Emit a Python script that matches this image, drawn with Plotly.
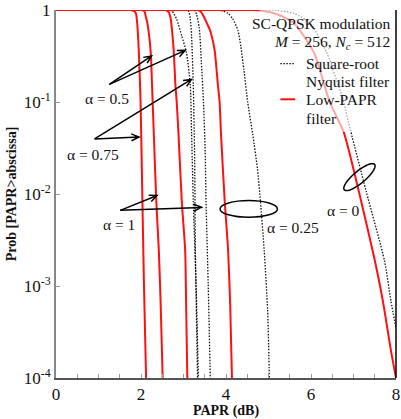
import math
import plotly.graph_objects as go

# ---------------- data ----------------
# Low-PAPR filter (red solid)
lp_a075_x = [0, 1.76, 1.84, 1.88, 1.91, 1.95, 1.99, 2.03, 2.07, 2.12]
lp_a075_p = [1, 1, 0.97, 0.92, 0.72, 0.34, 0.1, 0.01, 1e-3, 1e-4]

lp_a1_x = [0, 2.02, 2.08, 2.11, 2.15, 2.23, 2.26, 2.30, 2.36, 2.42, 2.46, 2.51]
lp_a1_p = [1, 1, 0.97, 0.86, 0.72, 0.34, 0.15, 0.047, 0.0083, 0.0024, 7e-4, 1e-4]

lp_a05_x = [0, 2.58, 2.65, 2.70, 2.73, 2.77, 2.81, 2.84, 2.88, 2.96, 3.04, 3.06, 3.09]
lp_a05_p = [1, 1, 0.95, 0.8, 0.6, 0.36, 0.152, 0.1, 0.047, 0.0083, 0.0024, 7e-4, 1e-4]

lp_a025_x = [0, 3.33, 3.40, 3.47, 3.55, 3.62, 3.70, 3.74, 3.81, 3.85, 3.88, 3.97, 4.05, 4.10, 4.14]
lp_a025_p = [1, 1, 0.97, 0.86, 0.72, 0.61, 0.44, 0.344, 0.152, 0.1, 0.047, 0.0083, 0.0024, 6e-4, 1e-4]

lp_a0_x = [0, 4.6, 4.81, 5.2, 5.60, 6.07, 6.44, 6.77, 7.14, 7.49, 7.69, 7.88, 8.0]
lp_a0_p = [1, 1, 0.99, 0.9, 0.72, 0.344, 0.1, 0.047, 0.01, 0.002, 6.9e-4, 2e-4, 1e-4]

# Square-root Nyquist filter (black dotted)
sr_a05_x = [0, 2.65, 2.73, 2.84, 2.96, 3.07, 3.16, 3.19, 3.23, 3.30, 3.35]
sr_a05_p = [1, 1, 0.975, 0.79, 0.52, 0.344, 0.152, 0.047, 0.0083, 9e-4, 1e-4]

sr_a075_x = [0, 3.05, 3.12, 3.16, 3.19, 3.23, 3.26, 3.28, 3.33]
sr_a075_p = [1, 1, 0.97, 0.8, 0.52, 0.152, 0.029, 0.0024, 1e-4]

sr_a1_x = [0, 3.22, 3.28, 3.37, 3.42, 3.47, 3.51, 3.53, 3.58, 3.63]
sr_a1_p = [1, 1, 0.97, 0.64, 0.27, 0.1, 0.029, 0.0083, 0.0011, 1e-4]

sr_a025_x = [0, 3.80, 3.93, 4.05, 4.16, 4.28, 4.35, 4.42, 4.51, 4.63, 4.74, 4.81, 4.90, 4.98, 5.02]
sr_a025_p = [1, 1, 0.975, 0.92, 0.8, 0.6, 0.4, 0.225, 0.1, 0.044, 0.0188, 0.0083, 0.0024, 5.4e-4, 1e-4]

sr_a0_x = [0, 5.0, 5.21, 5.6, 5.98, 6.37, 6.77, 6.88, 7.30, 7.73, 7.88, 8.0]
sr_a0_p = [1, 1, 0.99, 0.92, 0.72, 0.344, 0.1, 0.0605, 0.0106, 0.00187, 6.9e-4, 3.5e-4]

x_tick_vals = [0, 2, 4, 6, 8]
y_tick_vals = [1, 1e-1, 1e-2, 1e-3, 1e-4]
y_tick_text = ["1", "10<sup>-1</sup>", "10<sup>-2</sup>", "10<sup>-3</sup>", "10<sup>-4</sup>"]

# ---------------- figure ----------------
W, H = 401, 419
L, R, T, B = 56, 1, 7, 41
PW, PH = W - L - R, H - T - B

def px(X):
    return (X - L) / PW

def py(Y):
    return (H - B - Y) / PH

FONT = "Liberation Serif"
RED = "#ff1010"
DOT = "1.5px,1.5px"

fig = go.Figure()

red_series = [(lp_a075_x, lp_a075_p, "Low-PAPR α=0.75"),
              (lp_a1_x, lp_a1_p, "Low-PAPR α=1"),
              (lp_a05_x, lp_a05_p, "Low-PAPR α=0.5"),
              (lp_a025_x, lp_a025_p, "Low-PAPR α=0.25"),
              (lp_a0_x, lp_a0_p, "Low-PAPR α=0")]
dot_series = [(sr_a05_x, sr_a05_p, "SRN α=0.5"),
              (sr_a075_x, sr_a075_p, "SRN α=0.75"),
              (sr_a1_x, sr_a1_p, "SRN α=1"),
              (sr_a025_x, sr_a025_p, "SRN α=0.25"),
              (sr_a0_x, sr_a0_p, "SRN α=0")]

for xs, ps, nm in dot_series:
    fig.add_trace(go.Scatter(x=xs, y=ps, mode="lines", name=nm, showlegend=False,
                             line=dict(color="#111", width=1.3, dash=DOT,
                                       shape="spline", smoothing=0.6)))
for xs, ps, nm in red_series:
    fig.add_trace(go.Scatter(x=xs, y=ps, mode="lines", name=nm, showlegend=False,
                             line=dict(color=RED, width=2,
                                       shape="spline", smoothing=0.6)))

shapes = []
# semi-transparent legend backdrop
shapes.append(dict(type="rect", xref="paper", yref="paper", layer="above",
                   x0=px(262), x1=1.0, y0=py(130), y1=1.01,
                   fillcolor="rgba(255,255,255,0.62)", line=dict(width=0)))
# legend sample lines
shapes.append(dict(type="line", xref="paper", yref="paper", layer="above",
                   x0=px(283), x1=px(298), y0=py(61), y1=py(61),
                   line=dict(color="#111", width=1.3, dash=DOT)))
shapes.append(dict(type="line", xref="paper", yref="paper", layer="above",
                   x0=px(283), x1=px(298), y0=py(97), y1=py(97),
                   line=dict(color=RED, width=2)))
# right frame line
shapes.append(dict(type="line", xref="paper", yref="paper", layer="above",
                   x0=1, x1=1, y0=0, y1=1, line=dict(color="#000", width=1.5)))
# ellipse for alpha = 0.25
shapes.append(dict(type="circle", xref="paper", yref="paper", layer="above",
                   x0=px(222), x1=px(280), y0=py(216), y1=py(199),
                   line=dict(color="#000", width=1.5)))
# tilted ellipse for alpha = 0
cx, cy, a, b = 363, 175.5, 20, 6
th = math.atan2(-25, 30)
pts = []
for i in range(49):
    t = 2 * math.pi * i / 48
    X = cx + a * math.cos(th) * math.cos(t) - b * math.sin(th) * math.sin(t)
    Y = cy + a * math.sin(th) * math.cos(t) + b * math.cos(th) * math.sin(t)
    pts.append((px(X), py(Y)))
path = "M " + " L ".join(f"{u:.5f},{v:.5f}" for u, v in pts) + " Z"
shapes.append(dict(type="path", xref="paper", yref="paper", layer="above",
                   path=path, line=dict(color="#000", width=1.5)))

# arrows with open chevron heads
def arrow(tail, head, hl=8.5, ang=math.radians(24)):
    dx, dy = head[0] - tail[0], head[1] - tail[1]
    d = math.hypot(dx, dy)
    ux, uy = dx / d, dy / d
    p1 = (head[0] - hl * (ux * math.cos(ang) - uy * math.sin(ang)),
          head[1] - hl * (uy * math.cos(ang) + ux * math.sin(ang)))
    p2 = (head[0] - hl * (ux * math.cos(ang) + uy * math.sin(ang)),
          head[1] - hl * (uy * math.cos(ang) - ux * math.sin(ang)))
    pth = (f"M {px(tail[0]):.5f},{py(tail[1]):.5f} L {px(head[0]):.5f},{py(head[1]):.5f} "
           f"M {px(p1[0]):.5f},{py(p1[1]):.5f} L {px(head[0]):.5f},{py(head[1]):.5f} "
           f"L {px(p2[0]):.5f},{py(p2[1]):.5f}")
    shapes.append(dict(type="path", xref="paper", yref="paper", layer="above",
                       path=pth, line=dict(color="#000", width=1.5)))

arrow((110, 82), (152.7, 53.3))
arrow((110, 82), (186.7, 47.7))
arrow((95, 137), (140, 135))
arrow((95, 137), (193, 77))
arrow((121, 209), (158.3, 194))
arrow((121, 209), (203.3, 206))

ann = []
def txt(s, X, Y, anchor="center", size=15.5):
    ann.append(dict(text=s, x=px(X), y=py(Y), xref="paper", yref="paper",
                    xanchor=anchor, yanchor="middle", showarrow=False,
                    font=dict(family=FONT, size=size, color="#111")))

txt("SC-QPSK modulation", 396, 21, "right")
txt("<i>M</i> = 256, <i>N<sub>c</sub></i> = 512", 396, 40, "right")
txt("Square-root", 307, 61, "left")
txt("Nyquist filter", 307, 79, "left")
txt("Low-PAPR", 307, 97, "left")
txt("filter", 307, 116, "left")

txt("α = 0.5", 108, 96)
txt("α = 0.75", 93, 153)
txt("α = 1", 120, 223)
txt("α = 0.25", 296, 226)
txt("α = 0", 347, 209)

fig.update_layout(
    width=W, height=H,
    margin=dict(l=L, r=R, t=T, b=B),
    paper_bgcolor="white", plot_bgcolor="white",
    showlegend=False,
    shapes=shapes, annotations=ann,
    font=dict(family=FONT, color="#111"),
)
fig.update_xaxes(
    range=[0, 8], tickvals=x_tick_vals, ticktext=[str(v) for v in x_tick_vals],
    showgrid=False, zeroline=False,
    showline=True, linecolor="#555", linewidth=2,
    ticks="inside", ticklen=4, tickcolor="#999", tickwidth=1,
    minor=dict(dtick=0.5, ticks="inside", ticklen=4, tickcolor="#999", showgrid=False),
    tickfont=dict(family=FONT, size=17, color="#111"),
    ticklabelstandoff=0, ticklabeloverflow="allow",
    title=dict(text="<b>PAPR (dB)</b>", font=dict(family=FONT, size=14, color="#111"), standoff=0),
)
fig.update_yaxes(
    type="log", range=[-4, 0], tickvals=y_tick_vals, ticktext=y_tick_text,
    showgrid=False, zeroline=False,
    showline=True, linecolor="#888", linewidth=2,
    ticks="inside", ticklen=4, tickcolor="#999", tickwidth=1,
    tickfont=dict(family=FONT, size=17, color="#111"),
    ticklabeloverflow="allow",
    title=dict(text="<b>Prob [PAPR>abscissa]</b>", font=dict(family=FONT, size=14, color="#111"), standoff=4),
)

fig.write_html("out.html", config={"displayModeBar": False},
               post_script="document.body.style.margin='0';document.body.style.overflow='hidden';")
